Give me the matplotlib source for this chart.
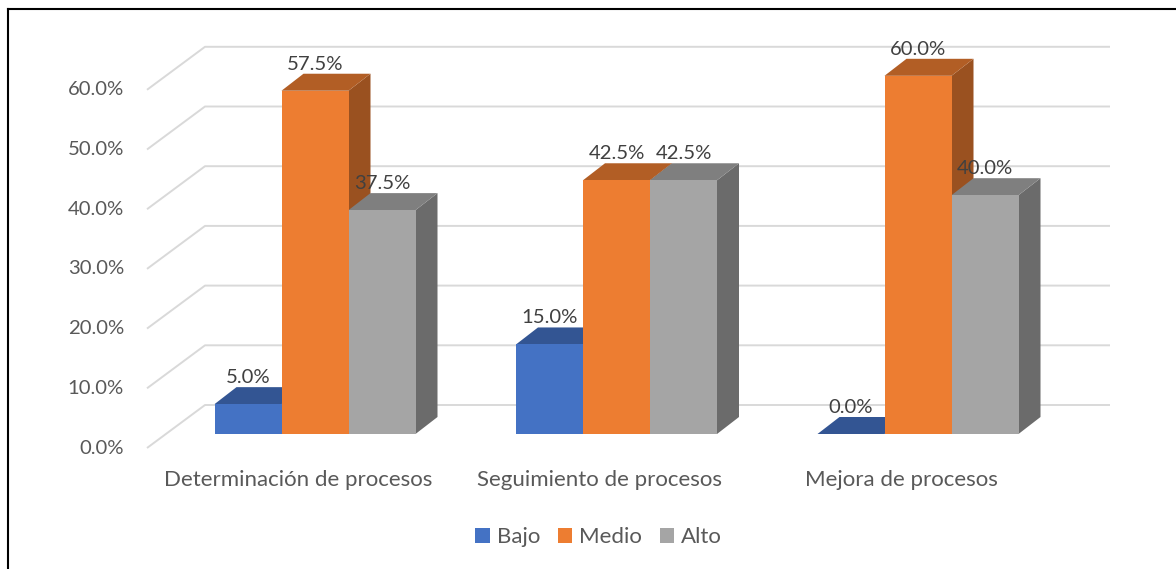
import numpy as np
import matplotlib
matplotlib.use('Agg')
from matplotlib import pyplot as plt
from matplotlib.patches import Polygon, Patch
from matplotlib.lines import Line2D

# data
categories = ['Determinación de procesos', 'Seguimiento de procesos', 'Mejora de procesos']
series = ['Bajo', 'Medio', 'Alto']
bajo = [5.0, 15.0, 0.0]
medio = [57.5, 42.5, 60.0]
alto = [37.5, 42.5, 40.0]
y_ticks = [0, 10, 20, 30, 40, 50, 60]

values = [bajo, medio, alto]
front_cols = ['#4472C4', '#ED7D31', '#A5A5A5']
top_cols = ['#335593', '#B25E25', '#7F7F7F']
side_cols = ['#2B4D84', '#9A5120', '#6B6B6B']

W, H = 1176, 569
fig = plt.figure(figsize=(W / 100, H / 100), dpi=100)
ax = fig.add_axes([0, 0, 1, 1])
ax.axis('off')

# pixel anchors for the projection: x px = x0 + sx * x, y px = y0 - sy * v
x0, sx = 315.0, 301.5
y0, sy = 434.0, 5.97
ax.set_xlim(-x0 / sx, (W - x0) / sx)
ax.set_ylim((y0 - H) / sy, y0 / sy)

plt.rcParams['font.family'] = ['Lato', 'DejaVu Sans']
fs_num = 14.6
fs_cat = 16
txt_col = '#595959'
lbl_col = '#404040'

# depth of the bars and of the back wall (x units, value units)
bdx, bdy = 22 / sx, 17 / sy
wall_back_dy = 29 / sy
wall_front_dy = -14 / sy
wall_left_front = (147 - x0) / sx
wall_left_back = (205 - x0) / sx
wall_right = (1110 - x0) / sx

# back wall gridlines with the diagonal on the side wall
for v in y_ticks:
    yb = v + wall_back_dy
    yf = v + wall_front_dy
    ax.plot([wall_left_front, wall_left_back, wall_right], [yf, yb, yb],
            color='#D9D9D9', lw=1.4, zorder=1, solid_capstyle='butt')
    ax.text((124 - x0) / sx, yf, f'{v:.1f}%', ha='right', va='center',
            fontsize=fs_num, color=txt_col)

bw = 67 / sx
offsets = np.array([-1, 0, 1]) * bw
z = 2
for i in range(len(categories)):
    for j in range(len(series)):
        v = values[j][i]
        left = i + offsets[j] - bw / 2
        right = left + bw
        # right side face
        ax.add_patch(Polygon([(right, 0), (right + bdx, bdy), (right + bdx, v + bdy), (right, v)],
                             closed=True, facecolor=side_cols[j], edgecolor='none', zorder=z))
        # top face
        ax.add_patch(Polygon([(left, v), (right, v), (right + bdx, v + bdy), (left + bdx, v + bdy)],
                             closed=True, facecolor=top_cols[j], edgecolor='none', zorder=z + 1))
        # front face
        ax.bar(i + offsets[j], v, width=bw, color=front_cols[j], zorder=z + 2, linewidth=0)
        ax.text(i + offsets[j], v + bdy + 0.2, f'{v:.1f}%', ha='center', va='bottom',
                fontsize=fs_num, color=lbl_col, zorder=100)
        z += 3

for i, c in enumerate(categories):
    ax.text(i - 17 / sx, (y0 - 480) / sy, c, ha='center', va='center',
            fontsize=fs_cat, color=txt_col)

handles = [Patch(facecolor=front_cols[j], edgecolor='none', label=series[j]) for j in range(3)]
leg = fig.legend(handles=handles, loc='center', bbox_to_anchor=(598.5 / W, 1 - 537 / H),
                 ncol=3, frameon=False, fontsize=fs_cat, handlelength=0.65, handleheight=0.65,
                 handletextpad=0.3, columnspacing=0.8)
for t in leg.get_texts():
    t.set_color(txt_col)

# outer frame (top and left edges)
fig.add_artist(Line2D([8 / W, 1], [1 - 9 / H, 1 - 9 / H], color='black', lw=1.5))
fig.add_artist(Line2D([8 / W, 8 / W], [0, 1 - 9 / H], color='black', lw=1.5))

fig.savefig('out.png', dpi=100)
